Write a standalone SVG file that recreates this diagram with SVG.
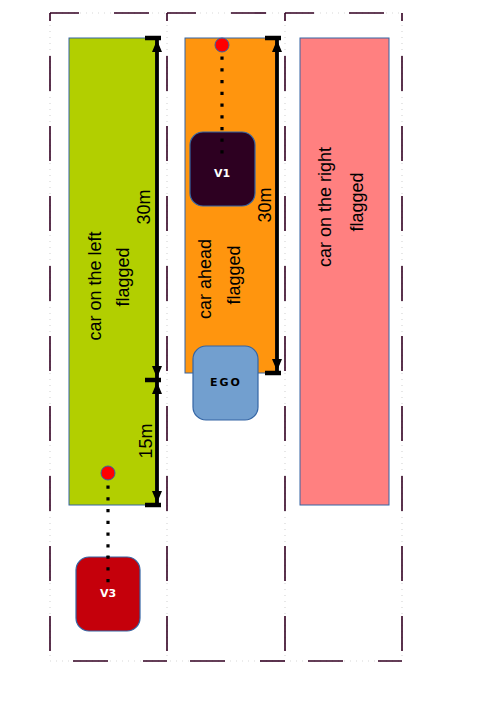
<svg xmlns="http://www.w3.org/2000/svg" width="500" height="707" viewBox="0 0 500 707">
<defs>
<marker id="arr" viewBox="0 0 12 10" refX="12" refY="5" markerWidth="12" markerHeight="10" orient="auto-start-reverse" markerUnits="userSpaceOnUse">
<path d="M0,0 L12,5 L0,10 z" fill="#000"/>
</marker>
<style>
.dots{stroke:#d8d8d8;stroke-width:1.2;stroke-dasharray:1 5;fill:none}
.dash{stroke:#330022;stroke-width:1.6;stroke-dasharray:35 35;fill:none}
.zone{stroke:#3465a4;stroke-width:1}
.lbl{font-family:"Liberation Sans",Arial,sans-serif;font-size:18px;fill:#000;text-anchor:middle}
.car{stroke:#3465a4;stroke-width:1.2}
.cartxt{font-family:"DejaVu Sans",sans-serif;font-weight:bold;font-size:11px;text-anchor:middle}
.dim{stroke:#000;stroke-width:3.8;fill:none}
.tick{stroke:#000;stroke-width:4.5}
.trail{stroke:#000;stroke-width:3.2;stroke-dasharray:3.2 8.55;fill:none}
.dot{fill:#ff0000;stroke:#3465a4;stroke-width:1}
</style>
</defs>

<g id="lanes">
<line class="dots" x1="50" y1="13" x2="402" y2="13"/>
<line class="dots" x1="50" y1="661" x2="402" y2="661"/>
<line class="dots" x1="50" y1="13" x2="50" y2="661"/>
<line class="dots" x1="167" y1="13" x2="167" y2="661"/>
<line class="dots" x1="285" y1="13" x2="285" y2="661"/>
<line class="dots" x1="402" y1="13" x2="402" y2="661"/>
<line class="dash" x1="50" y1="13" x2="167" y2="13" stroke-dashoffset="6"/>
<line class="dash" x1="167" y1="13" x2="285" y2="13" stroke-dashoffset="6"/>
<line class="dash" x1="285" y1="13" x2="402" y2="13" stroke-dashoffset="6"/>
<line class="dash" x1="50" y1="661" x2="167" y2="661" stroke-dashoffset="-23"/>
<line class="dash" x1="167" y1="661" x2="285" y2="661" stroke-dashoffset="-23"/>
<line class="dash" x1="285" y1="661" x2="402" y2="661" stroke-dashoffset="-23"/>
<line class="dash" x1="50" y1="13" x2="50" y2="661" stroke-dashoffset="27"/>
<line class="dash" x1="167" y1="13" x2="167" y2="661" stroke-dashoffset="27"/>
<line class="dash" x1="285" y1="13" x2="285" y2="661" stroke-dashoffset="27"/>
<line class="dash" x1="402" y1="13" x2="402" y2="661" stroke-dashoffset="27"/>
</g>

<g id="zone-left">
<rect class="zone" x="69" y="38" width="87" height="467" fill="#b2cf00"/>
<text class="lbl" transform="translate(101,286) rotate(-90)">car on the left</text>
<text class="lbl" transform="translate(129,277) rotate(-90)">flagged</text>
</g>

<g id="zone-ahead">
<rect class="zone" x="185" y="38" width="91" height="335" fill="#ff950e"/>
<text class="lbl" transform="translate(211,279) rotate(-90)">car ahead</text>
<text class="lbl" transform="translate(240,275) rotate(-90)">flagged</text>
</g>

<g id="zone-right">
<rect class="zone" x="300" y="38" width="89" height="467" fill="#ff8080"/>
<text class="lbl" transform="translate(331,207) rotate(-90)">car on the right</text>
<text class="lbl" transform="translate(363,202) rotate(-90)">flagged</text>
</g>

<g id="connectors">
<line class="trail" x1="222" y1="56.5" x2="222" y2="154"/>
<line class="trail" x1="108" y1="485.5" x2="108" y2="583"/>
<line class="dim" x1="157" y1="40" x2="157" y2="378" marker-start="url(#arr)" marker-end="url(#arr)"/>
<line class="dim" x1="157" y1="382" x2="157" y2="503" marker-start="url(#arr)" marker-end="url(#arr)"/>
<line class="dim" x1="277" y1="40" x2="277" y2="371" marker-start="url(#arr)" marker-end="url(#arr)"/>
<line class="tick" x1="145" y1="38" x2="161" y2="38"/>
<line class="tick" x1="145" y1="380" x2="161" y2="380"/>
<line class="tick" x1="145" y1="505" x2="161" y2="505"/>
<line class="tick" x1="265" y1="38" x2="281" y2="38"/>
<line class="tick" x1="265" y1="373" x2="281" y2="373"/>
</g>

<g id="dim-labels">
<text class="lbl" transform="translate(150,207) rotate(-90)">30m</text>
<text class="lbl" transform="translate(152,441) rotate(-90)">15m</text>
<text class="lbl" transform="translate(271,205) rotate(-90)">30m</text>
</g>

<g id="target-v1">
<circle class="dot" cx="222" cy="45" r="7"/>
</g>
<g id="target-v3">
<circle class="dot" cx="108" cy="473" r="7"/>
</g>

<g id="v1">
<rect class="car" x="190" y="132" width="65" height="74" rx="13" fill="#2d0021"/>
<line class="trail" x1="222" y1="138.5" x2="222" y2="154"/>
<text class="cartxt" x="222" y="177" fill="#ffffff">V1</text>
</g>

<g id="ego">
<rect class="car" x="193" y="346" width="65" height="74" rx="13" fill="#729fcf"/>
<text class="cartxt" x="226" y="386" fill="#000000" letter-spacing="2">EGO</text>
</g>

<g id="v3">
<rect class="car" x="76" y="557" width="64" height="74" rx="13" fill="#c5000b"/>
<line class="trail" x1="108" y1="555.5" x2="108" y2="583"/>
<text class="cartxt" x="108" y="597" fill="#ffffff">V3</text>
</g>
</svg>
